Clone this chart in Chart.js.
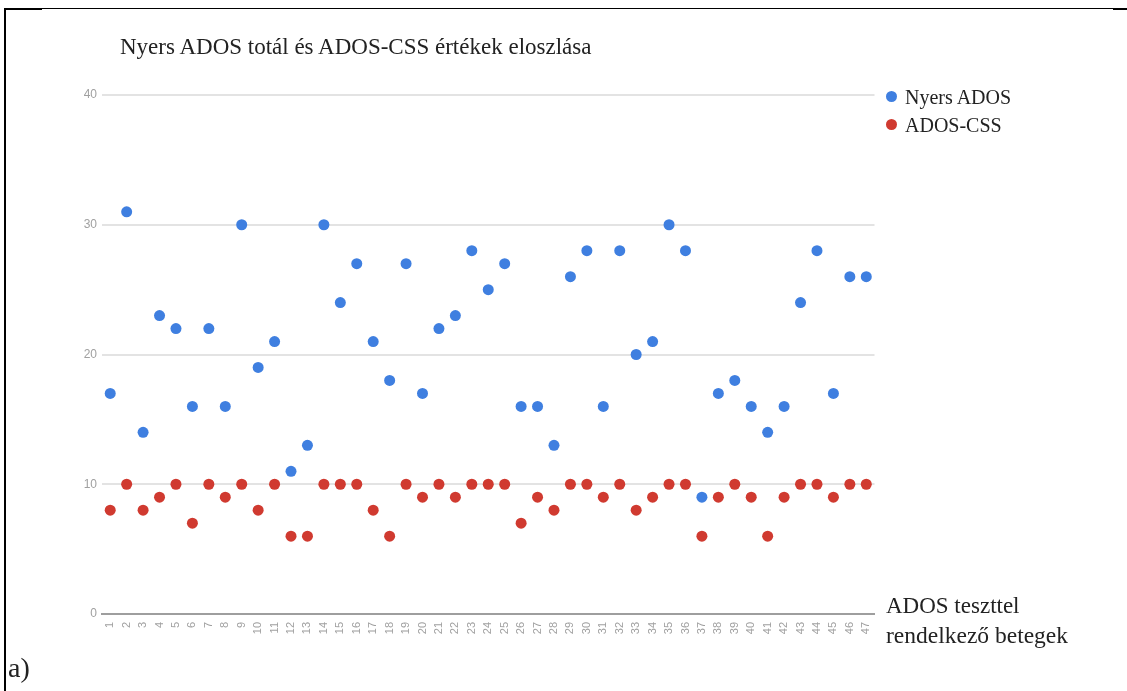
<!DOCTYPE html>
<html>
<head>
<meta charset="utf-8">
<script src="https://cdn.jsdelivr.net/npm/chart.js@4.4.1/dist/chart.umd.min.js"></script>
<style>
  html, body { margin: 0; padding: 0; background: #fff; }
  body { width: 1127px; height: 691px; position: relative; overflow: hidden; font-family: "Liberation Serif", serif; color: #222; }
  #chart { position: absolute; left: 0; top: 0; }
  .txt { position: absolute; white-space: nowrap; line-height: 1; }
  .dot { position: absolute; width: 11px; height: 11px; border-radius: 50%; }
  .line { position: absolute; background: #000; }
</style>
</head>
<body>
<!-- keret -->
<div class="line" style="left:4px; top:8px; width:2px; height:683px;"></div>
<div class="line" style="left:4px; top:8px; width:1123px; height:1px;"></div>
<div class="line" style="left:4px; top:8px; width:38px; height:2px;"></div>
<div class="line" style="left:1113px; top:8px; width:14px; height:2px;"></div>

<canvas id="chart" width="1127" height="691"></canvas>

<div class="txt" style="left:120px; top:35px; font-size:23px;">Nyers ADOS totál és ADOS-CSS értékek eloszlása</div>

<div class="dot" style="left:886px; top:91px; background:#3f7fe0;"></div>
<div class="txt" style="left:905px; top:87px; font-size:20px;">Nyers ADOS</div>
<div class="dot" style="left:886px; top:119px; background:#d03a30;"></div>
<div class="txt" style="left:905px; top:115px; font-size:20px;">ADOS-CSS</div>

<div class="txt" style="left:886px; top:594px; font-size:23px;">ADOS teszttel</div>
<div class="txt" style="left:886px; top:624px; font-size:23.5px;">rendelkező betegek</div>

<div class="txt" style="left:8px; top:654px; font-size:28px;">a)</div>

<script>
// ──── adatok ───────────────────────────────────────────────
const patients = [
  "1","2","3","4","5","6","7","8","9","10",
  "11","12","13","14","15","16","17","18","19","20",
  "21","22","23","24","25","26","27","28","29","30",
  "31","32","33","34","35","36","37","38","39","40",
  "41","42","43","44","45","46","47"
];
const nyersAdos = [
  17, 31, 14, 23, 22, 16, 22, 16, 30, 19,
  21, 11, 13, 30, 24, 27, 21, 18, 27, 17,
  22, 23, 28, 25, 27, 16, 16, 13, 26, 28,
  16, 28, 20, 21, 30, 28, 9, 17, 18, 16,
  14, 16, 24, 28, 17, 26, 26
];
const adosCss = [
  8, 10, 8, 9, 10, 7, 10, 9, 10, 8,
  10, 6, 6, 10, 10, 10, 8, 6, 10, 9,
  10, 9, 10, 10, 10, 7, 9, 8, 10, 10,
  9, 10, 8, 9, 10, 10, 6, 9, 10, 9,
  6, 9, 10, 10, 9, 10, 10
];
const yTicks = [0, 10, 20, 30, 40];

// ──── diagram ──────────────────────────────────────────────
const pointStyle = (color) => ({
  showLine: false,
  pointRadius: 5.5,
  pointHoverRadius: 5.5,
  pointBorderWidth: 0,
  pointBackgroundColor: color,
  borderColor: color,
  backgroundColor: color,
});

new Chart(document.getElementById("chart").getContext("2d"), {
  type: "line",
  data: {
    labels: patients,
    datasets: [
      { label: "Nyers ADOS", data: nyersAdos, ...pointStyle("#3f7fe0") },
      { label: "ADOS-CSS", data: adosCss, ...pointStyle("#d03a30") },
    ],
  },
  options: {
    responsive: false,
    animation: false,
    layout: { padding: { left: 0, top: 95, right: 252.5, bottom: 37 } },
    plugins: { legend: { display: false }, title: { display: false }, tooltip: { enabled: false } },
    scales: {
      x: {
        type: "category",
        offset: true,
        grid: { display: false, drawTicks: false },
        border: { display: true, color: "#9e9e9e", width: 2 },
        ticks: {
          autoSkip: false, minRotation: 90, maxRotation: 90, padding: 8,
          color: "#a0a0a0", font: { family: "Liberation Sans", size: 11 },
        },
        afterFit: (scale) => { scale.height = 40; },
      },
      y: {
        min: yTicks[0],
        max: yTicks[yTicks.length - 1],
        afterBuildTicks: (scale) => { scale.ticks = yTicks.map((v) => ({ value: v })); },
        grid: {
          drawTicks: false,
          lineWidth: 2,
          color: (ctx) => (ctx.tick && ctx.tick.value === 0 ? "#9e9e9e" : "#e3e3e3"),
        },
        border: { display: false },
        ticks: { padding: 5, color: "#a0a0a0", font: { family: "Liberation Sans", size: 12 } },
        afterFit: (scale) => { scale.width = 102; },
      },
    },
  },
});
</script>
</body>
</html>
